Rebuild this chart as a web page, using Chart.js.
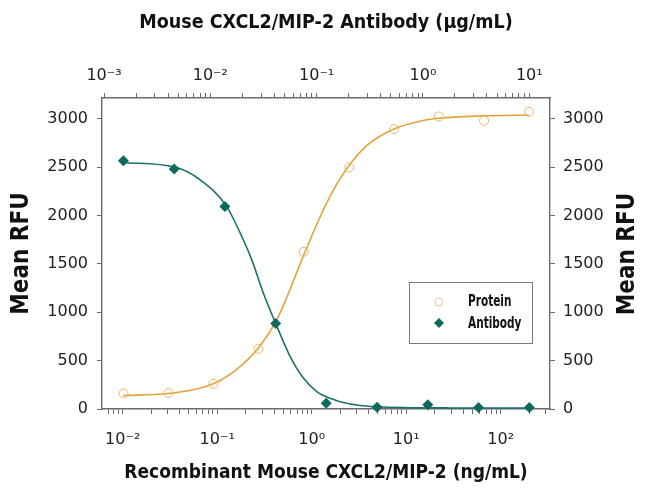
<!DOCTYPE html>
<html><head><meta charset="utf-8">
<script src="https://cdn.jsdelivr.net/npm/chart.js@4/dist/chart.umd.min.js"></script>
<style>html,body{margin:0;padding:0;background:#fff}#wrap{position:relative;width:650px;height:502px}</style>
</head><body><div id="wrap"><canvas id="c" width="650" height="502"></canvas></div>
<script>
// ---- data ----
const proteinConc = [0.0102, 0.0305, 0.0914, 0.274, 0.823, 2.5, 7.41, 22.2, 66.7, 200]; // ng/mL (bottom axis)
const proteinRFU  = [160, 167, 260, 622, 1625, 2497, 2894, 3024, 2980, 3072];
const antibodyConc = [0.00152, 0.00457, 0.0137, 0.0412, 0.123, 0.370, 1.11, 3.33, 10]; // ug/mL (top axis)
const antibodyRFU  = [2566, 2481, 2094, 883, 60, 19, 43, 15, 15];
// fitted curves
const proteinFitConc = [0.01, 0.0304, 0.091, 0.161, 0.270, 0.416, 0.543, 0.815, 1.22, 1.69, 2.69, 4.14, 7.43, 14.0, 22.2, 66.1, 198];
const proteinFitRFU  = [140, 160, 262, 410, 625, 900, 1150, 1580, 1980, 2260, 2560, 2750, 2895, 2975, 3005, 3030, 3040];
const antibodyFitConc = [0.0015, 0.00465, 0.0080, 0.01406, 0.0204, 0.0245, 0.0315, 0.0412, 0.0562, 0.0750, 0.1003, 0.1337, 0.166, 0.256, 0.372, 0.650, 1.80, 10];
const antibodyFitRFU  = [2549, 2501, 2370, 2102, 1750, 1544, 1200, 883, 545, 320, 180, 110, 75, 36, 23, 15, 11, 10];
const yTicks = [0, 500, 1000, 1500, 2000, 2500, 3000];
const bottomDecades = [-3, -2, -1, 0, 1, 2];
const topDecades = [-4, -3, -2, -1, 0, 1];
const seriesNames = ['Protein', 'Antibody'];
const titleTop = 'Mouse CXCL2/MIP-2 Antibody (\u00b5g/mL)';
const titleBottom = 'Recombinant Mouse CXCL2/MIP-2 (ng/mL)';
const titleY = 'Mean RFU';

const ORANGE = '#E3A23A', ORANGE_PT = '#E9B565', TEAL = '#1E706C', TEAL_PT = '#0E6A5F', AXIS = '#6a6a6a';
const COND = "'Liberation Sans Narrow', 'DejaVu Sans Condensed', sans-serif";
const TICKF = "'DejaVu Sans', sans-serif";

const supMap = {'-':'\u207b','0':'\u2070','1':'\u00b9','2':'\u00b2','3':'\u00b3'};
function powLabel(v){
  const e = Math.log10(v), r = Math.round(e);
  if (Math.abs(e - r) > 1e-6) return '';
  return '10' + String(r).split('').map(c => supMap[c]).join('');
}
const pts = (xs, ys) => xs.map((x, i) => ({x, y: ys[i]}));

function sized(prop, val){ return function(s){ s[prop] = val; }; }
function logTicks(decades){
  return function(s){
    const out = [];
    decades.forEach(e => { for (let k = 1; k <= 9; k++){ const v = Number((k * Math.pow(10, e)).toPrecision(6)); if (v >= s.min && v <= s.max) out.push({value:v, major:k===1}); } });
    s.ticks = out;
  };
}

const legendPlugin = {
  id: 'customLegend',
  afterDraw(chart){
    const ctx = chart.ctx;
    ctx.save();
    ctx.strokeStyle = '#7a7a7a'; ctx.lineWidth = 1;
    ctx.strokeRect(409.5, 282.5, 123, 61);
    ctx.strokeStyle = '#E8CBA0'; ctx.lineWidth = 1;
    ctx.beginPath(); ctx.arc(439, 302, 4, 0, Math.PI*2); ctx.stroke();
    ctx.fillStyle = TEAL_PT;
    ctx.beginPath(); ctx.moveTo(439, 318); ctx.lineTo(444, 323); ctx.lineTo(439, 328); ctx.lineTo(434, 323); ctx.closePath(); ctx.fill();
    ctx.fillStyle = '#111';
    ctx.font = "bold 15px " + COND;
    ctx.textBaseline = 'middle'; ctx.textAlign = 'left';
    ctx.save(); ctx.translate(468, 0); ctx.scale(0.78, 1);
    ctx.fillText(seriesNames[0], 0, 302);
    ctx.fillText(seriesNames[1], 0, 324);
    ctx.restore();
    // right-hand axis title, reading upward like the left one
    ctx.translate(628, 254); ctx.rotate(-Math.PI/2);
    ctx.textAlign = 'center';
    ctx.font = "bold 24px " + COND;
    ctx.fillText(titleY, 0, 0);
    ctx.restore();
  }
};

const gridOpts = {drawOnChartArea:false, drawTicks:true, tickLength:5, color:AXIS, tickColor:AXIS, lineWidth:1};
const borderOpts = {display:true, color:AXIS, width:1.4};

new Chart(document.getElementById('c'), {
  type: 'scatter',
  data: {
    datasets: [
      {label: seriesNames[0], data: pts(proteinConc, proteinRFU), xAxisID:'x', yAxisID:'y', order:0,
       pointStyle:'circle', pointRadius:4.5, pointBorderWidth:1, pointBorderColor:ORANGE_PT, pointBackgroundColor:'rgba(255,255,255,0)', showLine:false, clip:false},
      {label: seriesNames[1], data: pts(antibodyConc, antibodyRFU), xAxisID:'x2', yAxisID:'y', order:0,
       pointStyle:'rectRot', pointRadius:5.5, pointBorderWidth:0, pointBackgroundColor:TEAL_PT, pointBorderColor:TEAL_PT, showLine:false, clip:false},
      {label: 'protein fit', data: pts(proteinFitConc, proteinFitRFU), xAxisID:'x', yAxisID:'y', order:1,
       showLine:true, pointRadius:0, borderColor:ORANGE, borderWidth:1.6, cubicInterpolationMode:'monotone', clip:false},
      {label: 'antibody fit', data: pts(antibodyFitConc, antibodyFitRFU), xAxisID:'x2', yAxisID:'y', order:1,
       showLine:true, pointRadius:0, borderColor:TEAL, borderWidth:1.6, cubicInterpolationMode:'monotone', clip:false}
    ]
  },
  options: {
    responsive:false, animation:false, devicePixelRatio:1,
    layout:{padding:0},
    plugins:{legend:{display:false}, tooltip:{enabled:false}},
    scales: {
      x: {type:'logarithmic', position:'bottom', min:0.00604, max:332.4,
          grid:gridOpts, border:borderOpts, afterFit:sized('height', 93), afterBuildTicks:logTicks(bottomDecades),
          ticks:{autoSkip:false, maxRotation:0, padding:16, color:'#222', font:{family:TICKF, size:16}, callback:(v)=>powLabel(v)},
          title:{display:true, text:titleBottom, color:'#111', font:{family:COND, size:19, weight:'bold'}, padding:{top:0, bottom:18}}},
      x2: {type:'logarithmic', position:'top', min:0.000957, max:15.66,
          grid:gridOpts, border:borderOpts, afterFit:sized('height', 98), afterBuildTicks:logTicks(topDecades),
          ticks:{autoSkip:false, maxRotation:0, padding:8, color:'#222', font:{family:TICKF, size:16}, callback:(v)=>powLabel(v)},
          title:{display:true, text:titleTop, color:'#111', font:{family:COND, size:19.5, weight:'bold'}, padding:{top:11, bottom:0}}},
      y: {type:'linear', position:'left', min:0, max:3215,
          grid:gridOpts, border:borderOpts, afterFit:sized('width', 102),
          afterBuildTicks:(s)=>{ s.ticks = yTicks.map(v=>({value:v})); },
          ticks:{padding:9, color:'#222', font:{family:TICKF, size:16}, callback:(v)=>String(v)},
          title:{display:true, text:titleY, color:'#111', font:{family:COND, size:24, weight:'bold'}, padding:{top:7, bottom:0}}},
      y2: {type:'linear', position:'right', min:0, max:3215,
          grid:gridOpts, border:borderOpts, afterFit:sized('width', 100),
          afterBuildTicks:(s)=>{ s.ticks = yTicks.map(v=>({value:v})); },
          ticks:{padding:8, color:'#222', font:{family:TICKF, size:16}, callback:(v)=>String(v)}}
    }
  },
  plugins:[legendPlugin]
});
</script></body></html>
